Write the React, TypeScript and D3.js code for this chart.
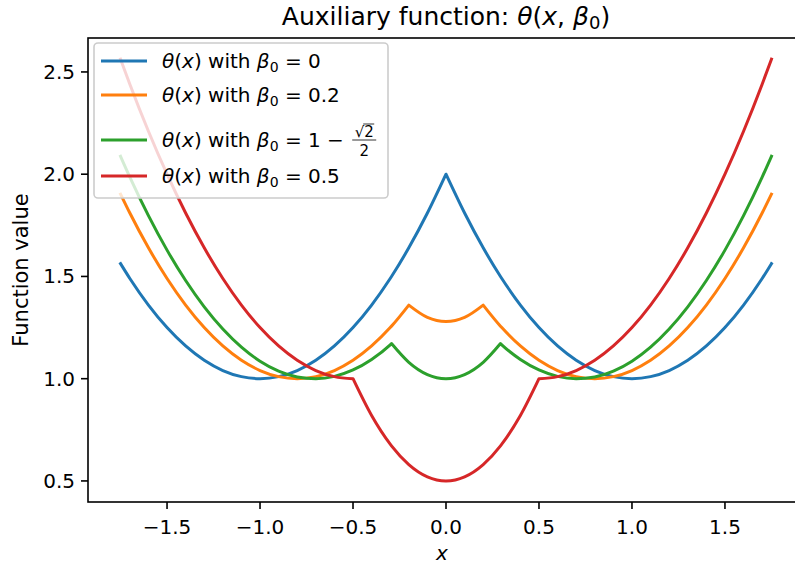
import React, { useEffect, useRef } from 'react';
import { select, scaleLinear, line, curveMonotoneX } from 'd3';

// x samples (kinks at 0, ±0.2, ±0.293, ±0.5 included)
const xs = [-1.75, -1.7, -1.6, -1.5, -1.4, -1.3, -1.2, -1.1, -1.0, -0.9, -0.8, -0.7, -0.6, -0.5, -0.4, -0.3, -0.293, -0.2, -0.1, 0,
  0.1, 0.2, 0.293, 0.3, 0.4, 0.5, 0.6, 0.7, 0.8, 0.9, 1.0, 1.1, 1.2, 1.3, 1.4, 1.5, 1.6, 1.7, 1.75];

const thetaBeta0 = [1.5625, 1.49, 1.36, 1.25, 1.16, 1.09, 1.04, 1.01, 1.0, 1.01, 1.04, 1.09, 1.16, 1.25, 1.36, 1.49, 1.4998, 1.64, 1.81, 2.0,
  1.81, 1.64, 1.4998, 1.49, 1.36, 1.25, 1.16, 1.09, 1.04, 1.01, 1.0, 1.01, 1.04, 1.09, 1.16, 1.25, 1.36, 1.49, 1.5625];
const thetaBeta02 = [1.9025, 1.81, 1.64, 1.49, 1.36, 1.25, 1.16, 1.09, 1.04, 1.01, 1.0, 1.01, 1.04, 1.09, 1.16, 1.25, 1.257, 1.36, 1.30, 1.28,
  1.30, 1.36, 1.257, 1.25, 1.16, 1.09, 1.04, 1.01, 1.0, 1.01, 1.04, 1.09, 1.16, 1.25, 1.36, 1.49, 1.64, 1.81, 1.9025];
const thetaBetaSqrt = [2.0876, 1.9859, 1.7973, 1.6287, 1.4801, 1.3515, 1.243, 1.1544, 1.0858, 1.0372, 1.0086, 1.0001, 1.0115, 1.0429, 1.0943, 1.1657, 1.1717, 1.08, 1.02, 1.0,
  1.02, 1.08, 1.1717, 1.1657, 1.0943, 1.0429, 1.0115, 1.0001, 1.0086, 1.0372, 1.0858, 1.1544, 1.243, 1.3515, 1.4801, 1.6287, 1.7973, 1.9859, 2.0876];
const thetaBeta05 = [2.5625, 2.44, 2.21, 2.0, 1.81, 1.64, 1.49, 1.36, 1.25, 1.16, 1.09, 1.04, 1.01, 1.0, 0.82, 0.68, 0.6717, 0.58, 0.52, 0.5,
  0.52, 0.58, 0.6717, 0.68, 0.82, 1.0, 1.01, 1.04, 1.09, 1.16, 1.25, 1.36, 1.49, 1.64, 1.81, 2.0, 2.21, 2.44, 2.5625];

const series = [thetaBeta0, thetaBeta02, thetaBetaSqrt, thetaBeta05];
// where each curve has a corner (beta0 and its mirror)
const kinks = [[0], [-0.2, 0.2], [-0.293, 0.293], [-0.5, 0.5]];
const betaLabels = ['0', '0.2', '1 − ', '0.5'];
const colors = ['#1f77b4', '#ff7f0e', '#2ca02c', '#d62728'];

const xTicks = [-1.5, -1.0, -0.5, 0, 0.5, 1.0, 1.5];
const xTickLabels = ['−1.5', '−1.0', '−0.5', '0.0', '0.5', '1.0', '1.5'];
const yTicks = [0.5, 1.0, 1.5, 2.0, 2.5];
const yTickLabels = ['0.5', '1.0', '1.5', '2.0', '2.5'];

const W = 795, H = 569;
const FONT = 'DejaVu Sans';

const App = () => {
  const svgRef = useRef(null);

  useEffect(() => {
    const svg = select(svgRef.current);
    svg.selectAll('*').remove();

    const left = 88, right = 804, top = 38, bottom = 502;
    const x = scaleLinear().domain([-1.925, 1.925]).range([left, right]);
    const y = scaleLinear().domain([0.397, 2.666]).range([bottom, top]);

    // curves: smooth pieces joined at the corners
    const path = line<[number, number]>().x(d => x(d[0])).y(d => y(d[1])).curve(curveMonotoneX);
    series.forEach((s, k) => {
      const pieces: [number, number][][] = [[]];
      s.forEach((v, i) => {
        pieces[pieces.length - 1].push([xs[i], v]);
        if (kinks[k].includes(xs[i])) pieces.push([[xs[i], v]]);
      });
      const d = pieces.filter(p => p.length > 1).map(p => path(p)).join('');
      svg.append('path')
        .attr('d', d.replace(/M/g, (m, off) => (off === 0 ? 'M' : 'L')))
        .attr('fill', 'none')
        .attr('stroke', colors[k])
        .attr('stroke-width', 3)
        .attr('stroke-linejoin', 'round')
        .attr('stroke-linecap', 'square');
    });

    // frame
    svg.append('rect')
      .attr('x', left).attr('y', top)
      .attr('width', right - left).attr('height', bottom - top)
      .attr('fill', 'none').attr('stroke', '#000').attr('stroke-width', 1.6);

    // x ticks
    const gx = svg.append('g');
    xTicks.forEach((t, i) => {
      gx.append('line').attr('x1', x(t)).attr('x2', x(t))
        .attr('y1', bottom).attr('y2', bottom + 7)
        .attr('stroke', '#000').attr('stroke-width', 1.6);
      gx.append('text').attr('x', x(t)).attr('y', bottom + 32)
        .attr('text-anchor', 'middle')
        .attr('font-family', FONT).attr('font-size', 20)
        .text(xTickLabels[i]);
    });

    // y ticks
    const gy = svg.append('g');
    yTicks.forEach((t, i) => {
      gy.append('line').attr('x1', left - 7).attr('x2', left)
        .attr('y1', y(t)).attr('y2', y(t))
        .attr('stroke', '#000').attr('stroke-width', 1.6);
      gy.append('text').attr('x', left - 13).attr('y', y(t) + 7)
        .attr('text-anchor', 'end')
        .attr('font-family', FONT).attr('font-size', 20)
        .text(yTickLabels[i]);
    });

    // axis labels
    svg.append('text').attr('x', (left + right) / 2 - 4).attr('y', 560)
      .attr('text-anchor', 'middle').attr('font-family', FONT)
      .attr('font-style', 'italic').attr('font-size', 20).text('x');
    svg.append('text')
      .attr('transform', `translate(28, ${(top + bottom) / 2}) rotate(-90)`)
      .attr('text-anchor', 'middle').attr('font-family', FONT)
      .attr('font-size', 21).text('Function value');

    // title
    const title = svg.append('text').attr('x', 446).attr('y', 25)
      .attr('text-anchor', 'middle').attr('font-family', FONT).attr('font-size', 25);
    title.append('tspan').text('Auxiliary function: ');
    title.append('tspan').attr('font-style', 'italic').text('θ');
    title.append('tspan').text('(');
    title.append('tspan').attr('font-style', 'italic').text('x');
    title.append('tspan').text(', ');
    title.append('tspan').attr('font-style', 'italic').text('β');
    title.append('tspan').attr('font-size', 18).attr('dy', 4).text('0');
    title.append('tspan').attr('dy', -4).text(')');

    // legend
    const lg = svg.append('g');
    lg.append('rect').attr('x', 94).attr('y', 43).attr('width', 294).attr('height', 155)
      .attr('rx', 4).attr('fill', '#fff').attr('fill-opacity', 0.8)
      .attr('stroke', '#cccccc').attr('stroke-width', 1.6);
    const rows = [61, 95, 140, 176];
    series.forEach((s, k) => {
      const ry = rows[k];
      lg.append('line').attr('x1', 101).attr('x2', 147).attr('y1', ry).attr('y2', ry)
        .attr('stroke', colors[k]).attr('stroke-width', 3);
      const t = lg.append('text').attr('x', 162).attr('y', ry + 7)
        .attr('font-family', FONT).attr('font-size', 20);
      t.append('tspan').attr('font-style', 'italic').text('θ');
      t.append('tspan').text('(');
      t.append('tspan').attr('font-style', 'italic').text('x');
      t.append('tspan').text(') with ');
      t.append('tspan').attr('font-style', 'italic').text('β');
      t.append('tspan').attr('font-size', 14).attr('dy', 4).text('0');
      t.append('tspan').attr('dy', -4).attr('xml:space', 'preserve').text(' = ' + betaLabels[k]);
      if (k === 2) {
        const len = (t.node() as SVGTextElement).getComputedTextLength();
        const fx = 162 + len + 2;
        const fw = 24;
        lg.append('line').attr('x1', fx).attr('x2', fx + fw).attr('y1', ry).attr('y2', ry)
          .attr('stroke', '#000').attr('stroke-width', 0.8);
        lg.append('text').attr('x', fx + fw / 2).attr('y', ry - 3)
          .attr('text-anchor', 'middle').attr('font-family', FONT).attr('font-size', 15)
          .text('√2');
        lg.append('line').attr('x1', fx + fw / 2 - 1).attr('x2', fx + fw / 2 + 10)
          .attr('y1', ry - 16).attr('y2', ry - 16)
          .attr('stroke', '#000').attr('stroke-width', 0.8);
        lg.append('text').attr('x', fx + fw / 2).attr('y', ry + 16)
          .attr('text-anchor', 'middle').attr('font-family', FONT).attr('font-size', 15)
          .text('2');
      }
    });
  }, []);

  return (
    <svg ref={svgRef} width={W} height={H}
      style={{ position: 'absolute', left: 0, top: 0, background: '#fff' }} />
  );
};

export default App;
